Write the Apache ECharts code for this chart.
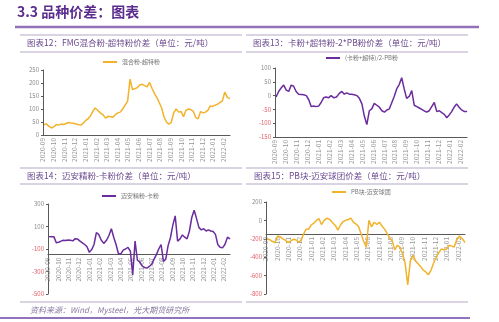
<!DOCTYPE html>
<html><head><meta charset="utf-8">
<script src="https://cdn.jsdelivr.net/npm/echarts@6/dist/echarts.min.js"></script>
<style>html,body{margin:0;padding:0;background:#fff}#c{width:499px;height:322px}</style>
</head><body><div id="c"></div>
<script>
const tickLabels = ['2020-09','2020-10','2020-11','2020-12','2021-01','2021-02','2021-03','2021-04','2021-05','2021-06','2021-07','2021-08','2021-09','2021-10','2021-11','2021-12','2022-01','2022-02'];
const dates = ['2020-09-04','2020-09-11','2020-09-18','2020-09-25','2020-10-02','2020-10-09','2020-10-16','2020-10-23','2020-10-30','2020-11-06','2020-11-13','2020-11-20','2020-11-27','2020-12-04','2020-12-11','2020-12-18','2020-12-25','2021-01-01','2021-01-08','2021-01-15','2021-01-22','2021-01-29','2021-02-05','2021-02-12','2021-02-19','2021-02-26','2021-03-05','2021-03-12','2021-03-19','2021-03-26','2021-04-02','2021-04-09','2021-04-16','2021-04-23','2021-04-30','2021-05-07','2021-05-14','2021-05-21','2021-05-28','2021-06-04','2021-06-11','2021-06-18','2021-06-25','2021-07-02','2021-07-09','2021-07-16','2021-07-23','2021-07-30','2021-08-06','2021-08-13','2021-08-20','2021-08-27','2021-09-03','2021-09-10','2021-09-17','2021-09-24','2021-10-01','2021-10-08','2021-10-15','2021-10-22','2021-10-29','2021-11-05','2021-11-12','2021-11-19','2021-11-26','2021-12-03','2021-12-10','2021-12-17','2021-12-24','2021-12-31','2022-01-07','2022-01-14','2022-01-21','2022-01-28','2022-02-04','2022-02-11','2022-02-18'];
const fmgSpread = [40,42,33,27,32,40,38,42,40,44,48,46,45,42,40,38,45,55,62,72,90,104,95,85,78,65,72,70,68,78,85,88,100,115,130,215,175,178,182,192,195,190,185,202,180,160,145,125,105,70,50,42,48,85,100,88,90,70,95,100,98,92,68,62,90,85,88,95,112,110,115,118,125,130,165,145,140];
const mixPbSpread = [-5,15,28,38,20,15,38,34,15,5,4,3,0,-15,-40,-38,-40,-38,-25,-8,-5,-8,0,-8,-5,8,15,5,10,5,5,3,0,-10,-30,-75,-105,-55,-48,-28,-35,-42,-55,-60,-52,-48,-25,-2,25,40,65,25,-10,-3,18,-35,-40,-45,-50,-55,-60,-55,-40,-25,-58,-55,-62,-68,-80,-70,-58,-42,-30,-42,-52,-58,-58];
const maianKaSpread = [10,8,10,-45,-40,-30,-22,-25,-20,-22,-28,-8,-12,-30,-45,-60,-80,-130,-105,-60,45,30,-20,-50,-25,20,80,5,-60,-140,-145,-110,-100,-85,-120,-330,-30,-200,-215,-250,-265,-270,-255,-235,-190,-150,-100,-60,-210,-190,-70,0,110,195,-30,-10,25,5,-10,60,180,245,170,90,70,80,60,70,60,55,30,-60,-85,-90,-60,5,-10];
const pbPelletSpread = [-200,-210,-230,-240,-170,-180,-200,-215,-240,-225,-205,-210,-235,-220,-150,-95,-95,-50,-30,0,20,-45,0,25,10,-25,-55,-105,-50,-15,0,10,25,-20,-40,-70,-150,-230,-290,0,-70,-20,-45,-20,-60,-95,-140,-190,-220,-320,-270,-290,-360,-460,-700,-440,-380,-440,-470,-500,-540,-560,-590,-540,-460,-400,-350,-310,-320,-310,-270,-280,-290,-210,-170,-200,-240];

const names = ['混合粉-超特粉','(卡粉+超特)/2-PB粉','迈安精粉-卡粉','PB块-迈安球团'];
const titles = ['图表12：FMG混合粉-超特粉价差（单位：元/吨）','图表13：卡粉+超特粉-2*PB粉价差（单位：元/吨）','图表14：迈安精粉-卡粉价差（单位：元/吨）','图表15：PB块-迈安球团价差（单位：元/吨）'];
const source = '资料来源：Wind，Mysteel，光大期货研究所';
const heading = '3.3 品种价差：图表';

function monthIdx(s){const p=s.split('-').map(Number);const dim=new Date(p[0],p[1],0).getDate();return (p[0]-2020)*12+(p[1]-9)+(p[2]-1)/dim;}
function pairs(v){return dates.map((d,i)=>[monthIdx(d),v[i]]);}

const GOLD='#f2b229', PURPLE='#6a2c9e';
const FONT='"Noto Sans CJK SC", "Noto Sans", sans-serif';
const grids=[{left:43,top:70,width:187,height:65},{left:275,top:68,width:192,height:69},{left:48,top:204,width:182,height:90},{left:266,top:202,width:199,height:92}];
const yCfg=[{min:0,max:250,interval:50},{min:-150,max:100,interval:50},{min:-500,max:300,interval:200},{min:-800,max:200,interval:200}];
const xOffsets=[0,0,-39.4,-60];
const legendPos=[{left:103,top:59},{left:326,top:55},{left:102,top:193},{left:332,top:189}];
const colors=[GOLD,PURPLE,PURPLE,GOLD];
const seriesVals=[fmgSpread,mixPbSpread,maianKaSpread,pbPelletSpread];

const xAxis=grids.map((g,i)=>({type:'value',gridIndex:i,min:0,max:17.6,interval:1,offset:xOffsets[i],
  axisLine:{onZero:false,lineStyle:{color:'#595959',width:1}},axisTick:{show:false},splitLine:{show:false},
  axisLabel:{rotate:90,fontSize:6.5,color:'#959595',margin:3,fontFamily:FONT,showMaxLabel:false,
    formatter:v=>Number.isInteger(v)&&tickLabels[v]?tickLabels[v]:''}}));
const yAxis=grids.map((g,i)=>({type:'value',gridIndex:i,min:yCfg[i].min,max:yCfg[i].max,interval:yCfg[i].interval,
  axisLine:{show:true,onZero:false,lineStyle:{color:'#595959',width:1}},axisTick:{show:true,length:2,lineStyle:{color:'#595959'}},splitLine:{show:false},
  axisLabel:{fontSize:6,margin:4,fontFamily:FONT,color:v=>(Number(v)<0?'#e0606a':'#8a8a8a')}}));
const series=grids.map((g,i)=>({name:names[i],type:'line',xAxisIndex:i,yAxisIndex:i,showSymbol:false,
  lineStyle:{width:1.5,color:colors[i]},itemStyle:{color:colors[i]},data:pairs(seriesVals[i])}));
const legend=grids.map((g,i)=>({data:[names[i]],left:legendPos[i].left,top:legendPos[i].top,icon:'rect',itemWidth:14,itemHeight:2,itemGap:2,padding:0,
  textStyle:{fontSize:6,color:'#777',fontFamily:FONT}}));

const LINEC='#b5a8c4';
function hline(x1,x2,y,c,w){return {type:'line',shape:{x1:x1,y1:y,x2:x2,y2:y},style:{stroke:c,lineWidth:w},silent:true};}
const graphic=[
  {type:'text',left:17,top:5,style:{text:heading,fill:'#5b2d8e',font:'bold 14px '+FONT}},
  hline(15,479,27,'#9272bb',2.5),
  hline(20,242,35,LINEC,1.2),hline(246,468,35,LINEC,1.2),
  hline(20,242,52,LINEC,1.2),hline(246,468,52,LINEC,1.2),
  hline(20,242,168,LINEC,1.2),hline(246,468,168,LINEC,1.2),
  hline(20,242,184,LINEC,1.2),hline(246,468,184,LINEC,1.2),
  hline(20,242,302,LINEC,1.2),hline(246,468,302,LINEC,1.2),
  hline(0,470,318,'#9272bb',2),
  {type:'text',left:27,top:39,style:{text:titles[0],fill:'#6b4a8f',font:'8.5px '+FONT}},
  {type:'text',left:253,top:39,style:{text:titles[1],fill:'#6b4a8f',font:'8.5px '+FONT}},
  {type:'text',left:27,top:172,style:{text:titles[2],fill:'#6b4a8f',font:'8.5px '+FONT}},
  {type:'text',left:254,top:172,style:{text:titles[3],fill:'#6b4a8f',font:'8.5px '+FONT}},
  {type:'text',left:30,top:306,style:{text:source,fill:'#8a7aa0',font:'italic 8px '+FONT}}
];
const chart=echarts.init(document.getElementById('c'),null,{renderer:'canvas'});
chart.setOption({backgroundColor:'#fff',animation:false,grid:grids,xAxis:xAxis,yAxis:yAxis,series:series,legend:legend,graphic:graphic});
</script></body></html>
